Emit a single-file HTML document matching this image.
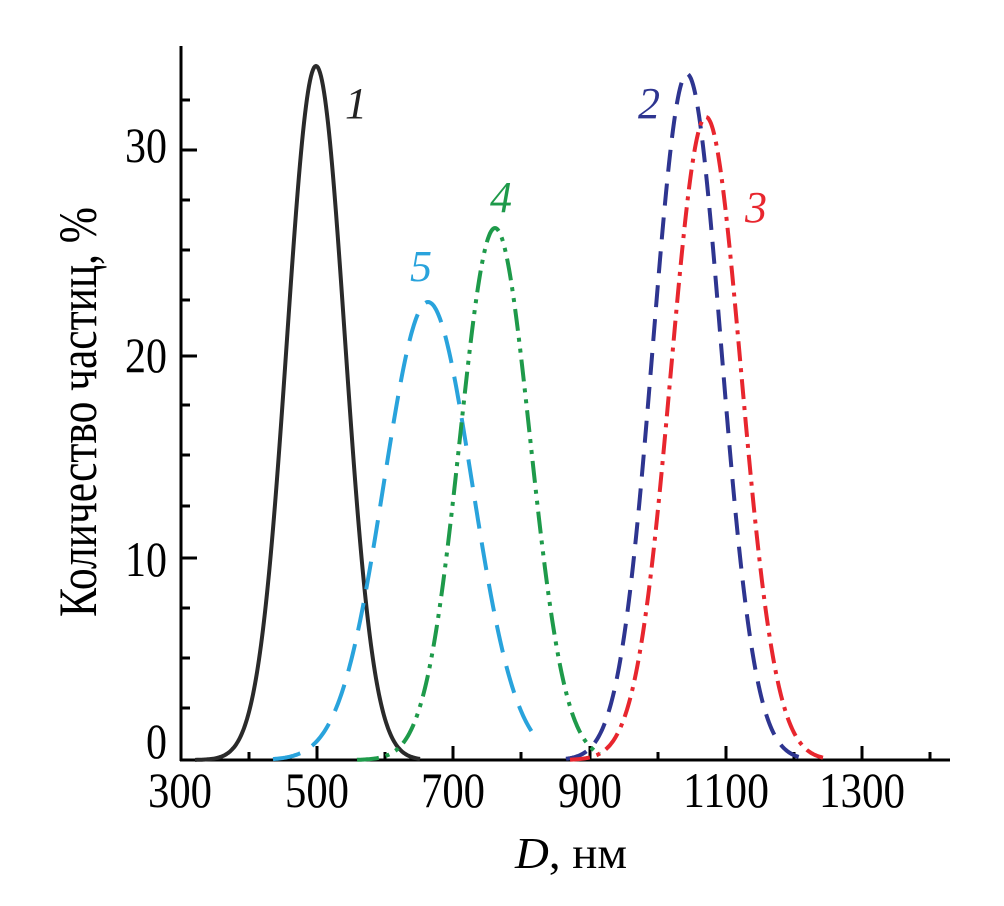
<!DOCTYPE html>
<html><head><meta charset="utf-8"><style>
html,body{margin:0;padding:0;background:#fff;}
svg{display:block}
text{font-family:"Liberation Serif",serif;}
</style></head><body>
<svg id="s" width="1004" height="906" viewBox="0 0 1004 906" xmlns="http://www.w3.org/2000/svg">
<g stroke="#000" stroke-width="3" fill="none">
<line x1="181" y1="46" x2="181" y2="761"/>
<line x1="180" y1="760" x2="950" y2="760"/>
</g>
<g id="ticks" stroke="#000" stroke-width="3"></g>
<g font-size="50" fill="#000">
<text x="167" y="758" text-anchor="end" textLength="21" lengthAdjust="spacingAndGlyphs">0</text>
<text x="167" y="576" text-anchor="end" textLength="42" lengthAdjust="spacingAndGlyphs">10</text>
<text x="167" y="372" text-anchor="end" textLength="42" lengthAdjust="spacingAndGlyphs">20</text>
<text x="167" y="162" text-anchor="end" textLength="42" lengthAdjust="spacingAndGlyphs">30</text>
<g text-anchor="middle">
<text x="180" y="807" textLength="64" lengthAdjust="spacingAndGlyphs">300</text>
<text x="317" y="807" textLength="64" lengthAdjust="spacingAndGlyphs">500</text>
<text x="453" y="807" textLength="64" lengthAdjust="spacingAndGlyphs">700</text>
<text x="590" y="807" textLength="64" lengthAdjust="spacingAndGlyphs">900</text>
<text x="726" y="807" textLength="86" lengthAdjust="spacingAndGlyphs">1100</text>
<text x="862" y="807" textLength="86" lengthAdjust="spacingAndGlyphs">1300</text>
</g>
<text x="571" y="868" text-anchor="middle" font-size="44" textLength="112" lengthAdjust="spacingAndGlyphs"><tspan font-style="italic">D</tspan>, нм</text>
<text transform="translate(96,412) rotate(-90)" text-anchor="middle" font-size="54" textLength="410" lengthAdjust="spacingAndGlyphs">Количество частиц, %</text>
</g>
<g id="curves" fill="none" stroke-width="4"></g>
<g font-size="44" font-style="italic">
<text x="345" y="118" fill="#222">1</text>
<text x="638" y="118" fill="#2e3590">2</text>
<text x="745" y="222" fill="#e8262e">3</text>
<text x="490" y="212" fill="#1e9a4a">4</text>
<text x="410" y="281" fill="#29a3dc">5</text>
</g>
</svg>
<script>
var NS="http://www.w3.org/2000/svg";
var t=document.getElementById("ticks");
function L(x1,y1,x2,y2){var l=document.createElementNS(NS,"line");l.setAttribute("x1",x1);l.setAttribute("y1",y1);l.setAttribute("x2",x2);l.setAttribute("y2",y2);t.appendChild(l);}
[100,150,200,250,300,356,405,455,506,558,608,658,708].forEach(function(y){var maj=(y==150||y==356||y==558);L(181,y,181+(maj?16:9),y);});
[[249,8],[317,14],[385,8],[453,14],[521,8],[590,14],[658,8],[726,14],[794,8],[862,14],[930,8]].forEach(function(a){L(a[0],760,a[0],760-a[1]);});
var c=document.getElementById("curves");
function G(mu,peak,sig,x0,x1,col,dash){var d="";for(var x=x0;x<=x1;x+=1){var y=760-peak*Math.exp(-(x-mu)*(x-mu)/(2*sig*sig));d+=(x==x0?"M":"L")+x+" "+y.toFixed(1);}var p=document.createElementNS(NS,"path");p.setAttribute("d",d);p.setAttribute("stroke",col);if(dash)p.setAttribute("stroke-dasharray",dash);c.appendChild(p);}
G(316,694,29,195,420,"#2a2a2a",null);
G(428,458,44,273,537,"#29a3dc","28,14");
G(495,532,35,357,600,"#1e9a4a","22,7,4,7,4,7");
G(687,686,34,566,802,"#2e3590","22,12");
G(706,643,35,570,823,"#e8262e","20,7,4,7");
</script>
</body></html>
